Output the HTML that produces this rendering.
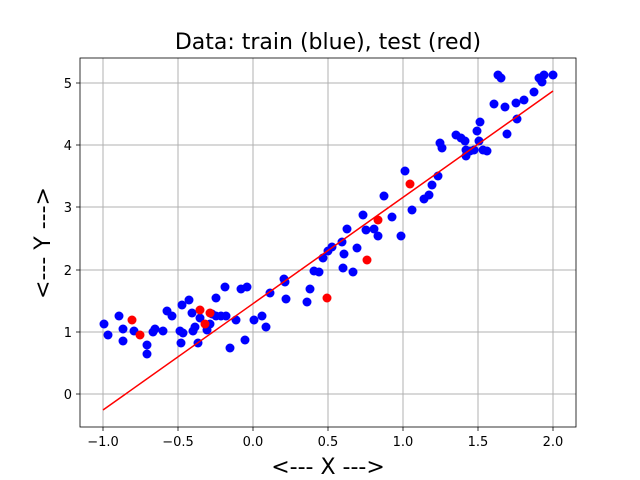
<!DOCTYPE html>
<html><head><meta charset="utf-8"><style>body{margin:0;background:#fff}svg{display:block}text{font-family:"DejaVu Sans","Liberation Sans",sans-serif}</style></head><body>
<svg width="640" height="480" viewBox="0 0 640 480" xmlns="http://www.w3.org/2000/svg">
<rect width="640" height="480" fill="#fff"/>
<g stroke="#b0b0b0" stroke-width="1">
<line x1="103" y1="58" x2="103" y2="427"/><line x1="178" y1="58" x2="178" y2="427"/><line x1="253" y1="58" x2="253" y2="427"/><line x1="328" y1="58" x2="328" y2="427"/><line x1="403" y1="58" x2="403" y2="427"/><line x1="478" y1="58" x2="478" y2="427"/><line x1="553" y1="58" x2="553" y2="427"/>
<line x1="80" y1="394" x2="576" y2="394"/><line x1="80" y1="332" x2="576" y2="332"/><line x1="80" y1="270" x2="576" y2="270"/><line x1="80" y1="207" x2="576" y2="207"/><line x1="80" y1="145" x2="576" y2="145"/><line x1="80" y1="83" x2="576" y2="83"/>
</g>
<g fill="#0000ff">
<circle cx="104" cy="324" r="4.5"/><circle cx="108" cy="335" r="4.5"/><circle cx="119" cy="316" r="4.5"/><circle cx="123" cy="329" r="4.5"/><circle cx="123" cy="341" r="4.5"/><circle cx="134" cy="331" r="4.5"/><circle cx="147" cy="345" r="4.5"/><circle cx="147" cy="354" r="4.5"/><circle cx="153" cy="332" r="4.5"/><circle cx="155" cy="329" r="4.5"/><circle cx="163" cy="331" r="4.5"/><circle cx="167" cy="311" r="4.5"/><circle cx="172" cy="316" r="4.5"/><circle cx="180" cy="331" r="4.5"/><circle cx="181" cy="343" r="4.5"/><circle cx="183" cy="333" r="4.5"/><circle cx="182" cy="305" r="4.5"/><circle cx="189" cy="300" r="4.5"/><circle cx="192" cy="313" r="4.5"/><circle cx="193" cy="331" r="4.5"/><circle cx="195" cy="327" r="4.5"/><circle cx="198" cy="343" r="4.5"/><circle cx="200" cy="318" r="4.5"/><circle cx="207" cy="330" r="4.5"/><circle cx="210" cy="324" r="4.5"/><circle cx="212" cy="314" r="4.5"/><circle cx="216" cy="316" r="4.5"/><circle cx="216" cy="298" r="4.5"/><circle cx="221" cy="316" r="4.5"/><circle cx="226" cy="316" r="4.5"/><circle cx="225" cy="287" r="4.5"/><circle cx="230" cy="348" r="4.5"/><circle cx="236" cy="320" r="4.5"/><circle cx="241" cy="289" r="4.5"/><circle cx="247" cy="287" r="4.5"/><circle cx="245" cy="340" r="4.5"/><circle cx="254" cy="320" r="4.5"/><circle cx="262" cy="316" r="4.5"/><circle cx="266" cy="327" r="4.5"/><circle cx="270" cy="293" r="4.5"/><circle cx="284" cy="279" r="4.5"/><circle cx="285" cy="282" r="4.5"/><circle cx="286" cy="299" r="4.5"/><circle cx="307" cy="302" r="4.5"/><circle cx="310" cy="289" r="4.5"/><circle cx="314" cy="271" r="4.5"/><circle cx="319" cy="272" r="4.5"/><circle cx="323" cy="258" r="4.5"/><circle cx="328" cy="251" r="4.5"/><circle cx="332" cy="247" r="4.5"/><circle cx="342" cy="242" r="4.5"/><circle cx="343" cy="268" r="4.5"/><circle cx="347" cy="229" r="4.5"/><circle cx="344" cy="254" r="4.5"/><circle cx="357" cy="248" r="4.5"/><circle cx="353" cy="272" r="4.5"/><circle cx="363" cy="215" r="4.5"/><circle cx="366" cy="230" r="4.5"/><circle cx="374" cy="229" r="4.5"/><circle cx="378" cy="236" r="4.5"/><circle cx="384" cy="196" r="4.5"/><circle cx="392" cy="217" r="4.5"/><circle cx="401" cy="236" r="4.5"/><circle cx="405" cy="171" r="4.5"/><circle cx="412" cy="210" r="4.5"/><circle cx="424" cy="199" r="4.5"/><circle cx="429" cy="195" r="4.5"/><circle cx="432" cy="185" r="4.5"/><circle cx="438" cy="176" r="4.5"/><circle cx="440" cy="143" r="4.5"/><circle cx="442" cy="148" r="4.5"/><circle cx="456" cy="135" r="4.5"/><circle cx="461" cy="138" r="4.5"/><circle cx="465" cy="141" r="4.5"/><circle cx="466" cy="150" r="4.5"/><circle cx="466" cy="156" r="4.5"/><circle cx="470" cy="151" r="4.5"/><circle cx="474" cy="150" r="4.5"/><circle cx="477" cy="131" r="4.5"/><circle cx="480" cy="122" r="4.5"/><circle cx="479" cy="141" r="4.5"/><circle cx="483" cy="150" r="4.5"/><circle cx="487" cy="151" r="4.5"/><circle cx="494" cy="104" r="4.5"/><circle cx="498" cy="75" r="4.5"/><circle cx="501" cy="78" r="4.5"/><circle cx="505" cy="107" r="4.5"/><circle cx="507" cy="134" r="4.5"/><circle cx="516" cy="103" r="4.5"/><circle cx="517" cy="119" r="4.5"/><circle cx="524" cy="100" r="4.5"/><circle cx="534" cy="92" r="4.5"/><circle cx="539" cy="78" r="4.5"/><circle cx="542" cy="82" r="4.5"/><circle cx="544" cy="75" r="4.5"/><circle cx="541" cy="80" r="4.5"/><circle cx="553" cy="75" r="4.5"/>
</g>
<g fill="#ff0000">
<circle cx="132" cy="320" r="4.5"/><circle cx="140" cy="335" r="4.5"/><circle cx="200" cy="310" r="4.5"/><circle cx="205" cy="324" r="4.5"/><circle cx="210" cy="313" r="4.5"/><circle cx="327" cy="298" r="4.5"/><circle cx="367" cy="260" r="4.5"/><circle cx="378" cy="220" r="4.5"/><circle cx="410" cy="184" r="4.5"/>
</g>
<line x1="103" y1="410" x2="553" y2="91" stroke="#ff0000" stroke-width="1.5"/>
<rect x="80" y="58" width="496" height="369" fill="none" stroke="#000" stroke-width="0.8"/>
<g stroke="#000" stroke-width="0.8">
<line x1="103" y1="427" x2="103" y2="431"/><line x1="178" y1="427" x2="178" y2="431"/><line x1="253" y1="427" x2="253" y2="431"/><line x1="328" y1="427" x2="328" y2="431"/><line x1="403" y1="427" x2="403" y2="431"/><line x1="478" y1="427" x2="478" y2="431"/><line x1="553" y1="427" x2="553" y2="431"/>
<line x1="76" y1="394" x2="80" y2="394"/><line x1="76" y1="332" x2="80" y2="332"/><line x1="76" y1="270" x2="80" y2="270"/><line x1="76" y1="207" x2="80" y2="207"/><line x1="76" y1="145" x2="80" y2="145"/><line x1="76" y1="83" x2="80" y2="83"/>
</g>
<g font-size="13" text-anchor="middle">
<text x="103" y="446">−1.0</text><text x="178" y="446">−0.5</text><text x="253" y="446">0.0</text><text x="328" y="446">0.5</text><text x="403" y="446">1.0</text><text x="478" y="446">1.5</text><text x="553" y="446">2.0</text>
</g>
<g font-size="13" text-anchor="end">
<text x="72" y="399">0</text><text x="72" y="337">1</text><text x="72" y="275">2</text><text x="72" y="212">3</text><text x="72" y="150">4</text><text x="72" y="88">5</text>
</g>
<text x="328" y="49" font-size="22" text-anchor="middle">Data: train (blue), test (red)</text>
<text x="328" y="474" font-size="22" text-anchor="middle">&lt;--- X ---&gt;</text>
<text x="0" y="0" font-size="22" text-anchor="middle" transform="translate(50,243) rotate(-90)">&lt;--- Y ---&gt;</text>
</svg>
</body></html>
